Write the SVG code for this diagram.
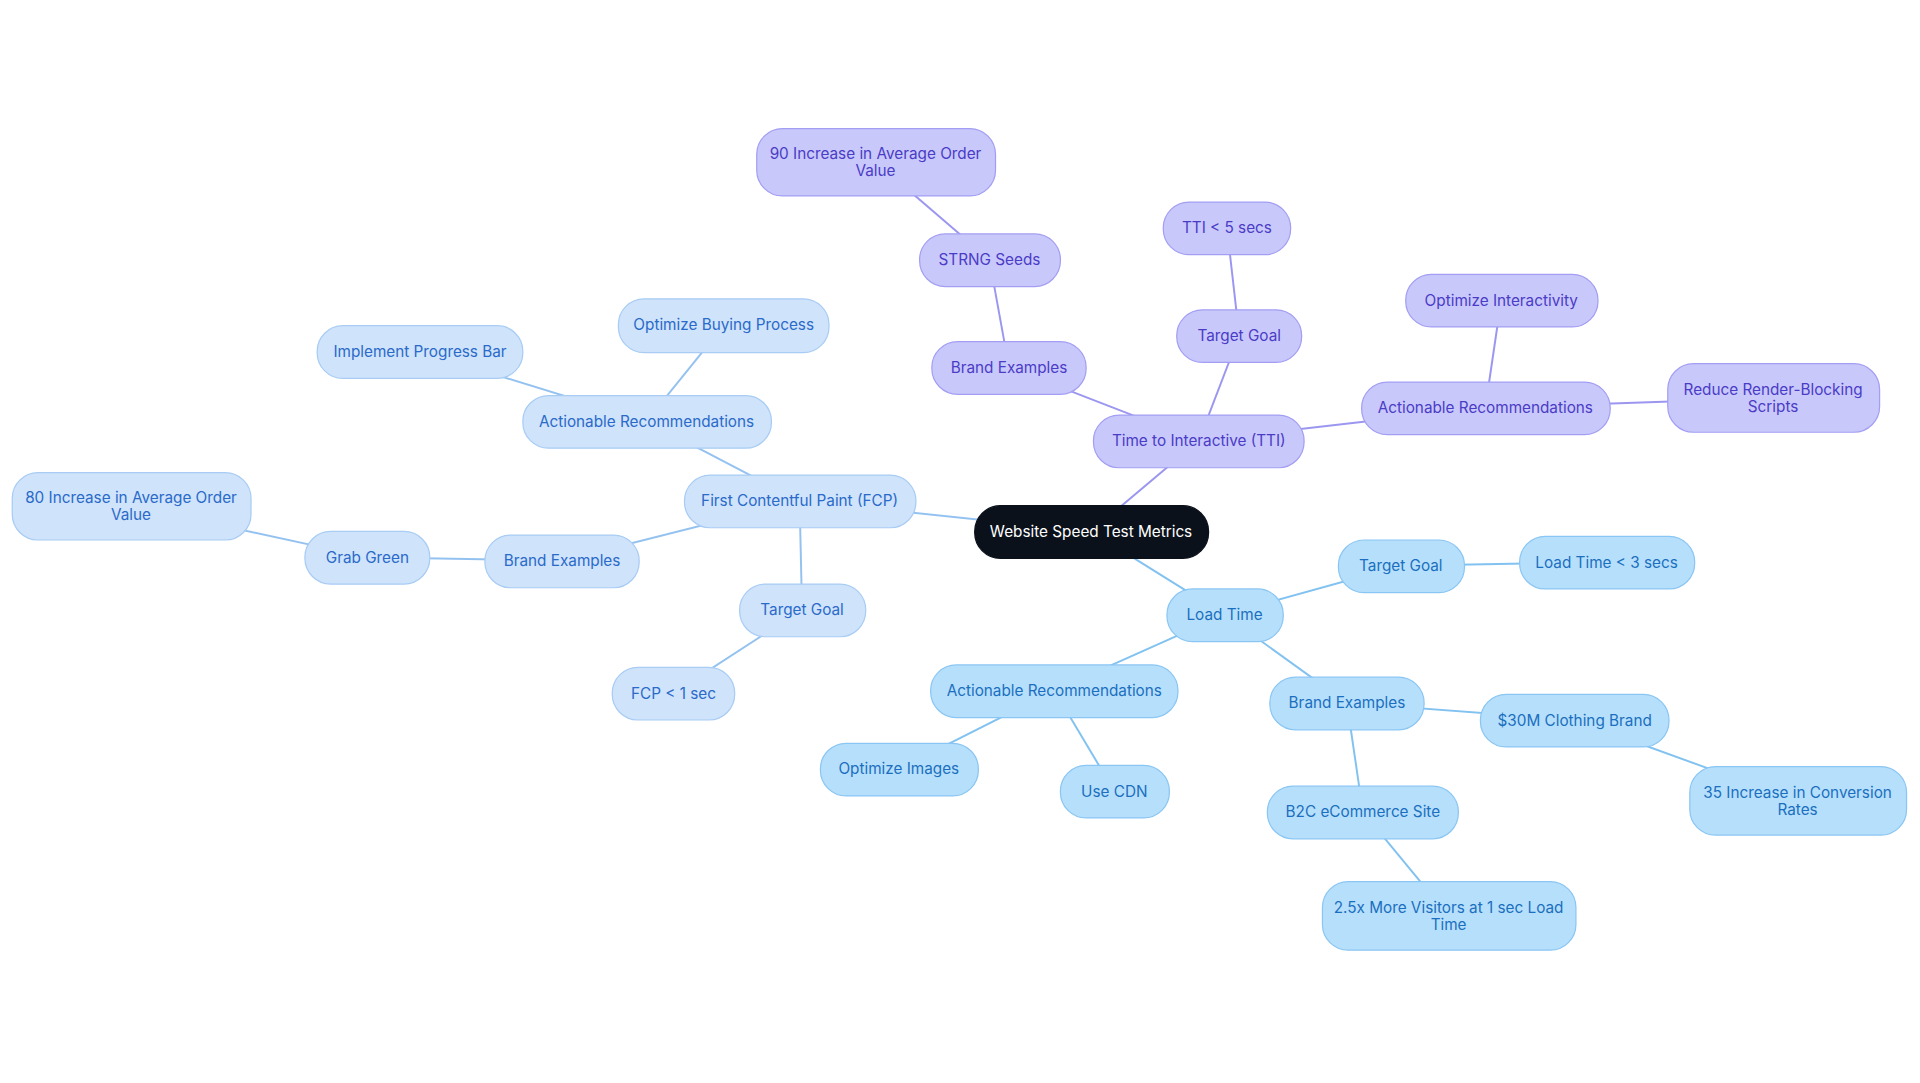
<svg xmlns="http://www.w3.org/2000/svg" width="1920" height="1083" viewBox="0 0 1920 1083">
<style>
text{font-family:Inter,"Noto Sans",sans-serif;font-size:12.5px;text-anchor:middle;dominant-baseline:central}
.f rect{fill:#cfe3fb;stroke:#a8ccf4;stroke-width:1}
.f text{fill:#2a6ac9}
.t rect{fill:#c9c8fb;stroke:#a39ef3;stroke-width:1}
.t text{fill:#4a3cc6}
.l rect{fill:#b6dffc;stroke:#8ac6f3;stroke-width:1}
.l text{fill:#1b6fbe}
.c rect{fill:#0b111b;stroke:#0b111b}
.c text{fill:#fff}
.ef{stroke:#94c2f0;stroke-width:1.6}
.et{stroke:#9b96ef;stroke-width:1.6}
.el{stroke:#82c2f0;stroke-width:1.6}
</style>
<rect width="1920" height="1083" fill="#fff"/>
<g transform="scale(1.2245)">
<g id="connectors">
<line class="ef" x1="891" y1="434" x2="653" y2="409"/>
<line class="ef" x1="653" y1="409" x2="528" y2="344"/>
<line class="ef" x1="528" y1="344" x2="591" y2="266"/>
<line class="ef" x1="528" y1="344" x2="343" y2="287"/>
<line class="ef" x1="653" y1="409" x2="459" y2="458"/>
<line class="ef" x1="459" y1="458" x2="300" y2="455"/>
<line class="ef" x1="300" y1="455" x2="107" y2="413"/>
<line class="ef" x1="653" y1="409" x2="655" y2="498"/>
<line class="ef" x1="655" y1="498" x2="550" y2="566"/>
<line class="et" x1="891" y1="434" x2="979" y2="360"/>
<line class="et" x1="979" y1="360" x2="824" y2="300"/>
<line class="et" x1="824" y1="300" x2="808" y2="212"/>
<line class="et" x1="808" y1="212" x2="715" y2="132"/>
<line class="et" x1="979" y1="360" x2="1012" y2="274"/>
<line class="et" x1="1012" y1="274" x2="1002" y2="186"/>
<line class="et" x1="979" y1="360" x2="1213" y2="333"/>
<line class="et" x1="1213" y1="333" x2="1226" y2="245"/>
<line class="et" x1="1213" y1="333" x2="1448" y2="325"/>
<line class="el" x1="891" y1="434" x2="1000" y2="502"/>
<line class="el" x1="1000" y1="502" x2="1144" y2="462"/>
<line class="el" x1="1144" y1="462" x2="1312" y2="459"/>
<line class="el" x1="1000" y1="502" x2="861" y2="564"/>
<line class="el" x1="861" y1="564" x2="734" y2="628"/>
<line class="el" x1="861" y1="564" x2="910" y2="646"/>
<line class="el" x1="1000" y1="502" x2="1100" y2="574"/>
<line class="el" x1="1100" y1="574" x2="1286" y2="588"/>
<line class="el" x1="1286" y1="588" x2="1468" y2="654"/>
<line class="el" x1="1100" y1="574" x2="1113" y2="663"/>
<line class="el" x1="1113" y1="663" x2="1183" y2="748"/>
</g>
<g id="center" class="c"><rect x="796" y="413" width="191" height="43" rx="21"/><text x="891" y="434">Website Speed Test Metrics</text></g>
<g id="fcp" class="f"><rect x="559" y="388" width="189" height="43" rx="21"/><text x="653" y="409">First Contentful Paint (FCP)</text></g>
<g id="fcp-rec" class="f"><rect x="427" y="323" width="203" height="43" rx="21"/><text x="528" y="344">Actionable Recommendations</text></g>
<g id="fcp-buy" class="f"><rect x="505" y="244" width="172" height="44" rx="21"/><text x="591" y="265">Optimize Buying Process</text></g>
<g id="fcp-bar" class="f"><rect x="259" y="266" width="168" height="43" rx="21"/><text x="343" y="287">Implement Progress Bar</text></g>
<g id="fcp-brand" class="f"><rect x="396" y="437" width="126" height="43" rx="21"/><text x="459" y="458">Brand Examples</text></g>
<g id="fcp-grab" class="f"><rect x="249" y="434" width="102" height="43" rx="21"/><text x="300" y="455">Grab Green</text></g>
<g id="fcp-80" class="f"><rect x="10" y="386" width="195" height="55" rx="21"/><text x="107" y="406">80 Increase in Average Order</text><text x="107" y="420">Value</text></g>
<g id="fcp-goal" class="f"><rect x="604" y="477" width="103" height="43" rx="21"/><text x="655" y="498">Target Goal</text></g>
<g id="fcp-1" class="f"><rect x="500" y="545" width="100" height="43" rx="21"/><text x="550" y="566">FCP &lt; 1 sec</text></g>
<g id="tti" class="t"><rect x="893" y="339" width="172" height="43" rx="21"/><text x="979" y="360">Time to Interactive (TTI)</text></g>
<g id="tti-brand" class="t"><rect x="761" y="279" width="126" height="43" rx="21"/><text x="824" y="300">Brand Examples</text></g>
<g id="tti-strng" class="t"><rect x="751" y="191" width="115" height="43" rx="21"/><text x="808" y="212">STRNG Seeds</text></g>
<g id="tti-90" class="t"><rect x="618" y="105" width="195" height="55" rx="21"/><text x="715" y="125">90 Increase in Average Order</text><text x="715" y="139">Value</text></g>
<g id="tti-goal" class="t"><rect x="961" y="253" width="102" height="43" rx="21"/><text x="1012" y="274">Target Goal</text></g>
<g id="tti-5" class="t"><rect x="950" y="165" width="104" height="43" rx="21"/><text x="1002" y="186">TTI &lt; 5 secs</text></g>
<g id="tti-rec" class="t"><rect x="1112" y="312" width="203" height="43" rx="21"/><text x="1213" y="333">Actionable Recommendations</text></g>
<g id="tti-int" class="t"><rect x="1148" y="224" width="157" height="43" rx="21"/><text x="1226" y="245">Optimize Interactivity</text></g>
<g id="tti-rbs" class="t"><rect x="1362" y="297" width="173" height="56" rx="21"/><text x="1448" y="318">Reduce Render-Blocking</text><text x="1448" y="332">Scripts</text></g>
<g id="load" class="l"><rect x="953" y="481" width="95" height="43" rx="21"/><text x="1000" y="502">Load Time</text></g>
<g id="load-goal" class="l"><rect x="1093" y="441" width="103" height="43" rx="21"/><text x="1144" y="462">Target Goal</text></g>
<g id="load-3" class="l"><rect x="1241" y="438" width="143" height="43" rx="21"/><text x="1312" y="459">Load Time &lt; 3 secs</text></g>
<g id="load-rec" class="l"><rect x="760" y="543" width="202" height="43" rx="21"/><text x="861" y="564">Actionable Recommendations</text></g>
<g id="load-img" class="l"><rect x="670" y="607" width="129" height="43" rx="21"/><text x="734" y="628">Optimize Images</text></g>
<g id="load-cdn" class="l"><rect x="866" y="625" width="89" height="43" rx="21"/><text x="910" y="646">Use CDN</text></g>
<g id="load-brand" class="l"><rect x="1037" y="553" width="126" height="43" rx="21"/><text x="1100" y="574">Brand Examples</text></g>
<g id="load-30m" class="l"><rect x="1209" y="567" width="154" height="43" rx="21"/><text x="1286" y="588">$30M Clothing Brand</text></g>
<g id="load-35" class="l"><rect x="1380" y="626" width="177" height="56" rx="21"/><text x="1468" y="647">35 Increase in Conversion</text><text x="1468" y="661">Rates</text></g>
<g id="load-b2c" class="l"><rect x="1035" y="642" width="156" height="43" rx="21"/><text x="1113" y="663">B2C eCommerce Site</text></g>
<g id="load-25" class="l"><rect x="1080" y="720" width="207" height="56" rx="21"/><text x="1183" y="741">2.5x More Visitors at 1 sec Load</text><text x="1183" y="755">Time</text></g>
</g>
</svg>
